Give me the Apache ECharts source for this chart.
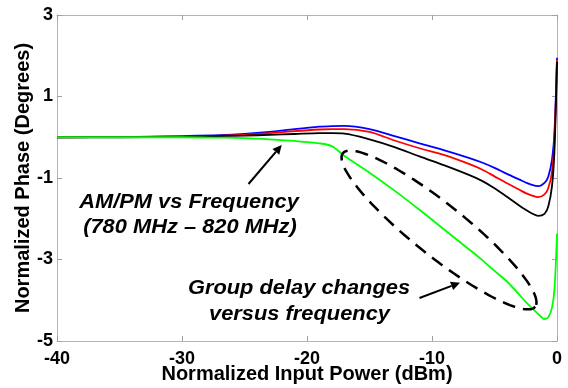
<!DOCTYPE html>
<html><head><meta charset="utf-8">
<script src="https://cdn.jsdelivr.net/npm/echarts@6/dist/echarts.min.js"></script>
<style>html,body{margin:0;padding:0;background:#fff}#c{width:568px;height:388px}</style>
</head><body><div id="c"></div>
<script>
// Normalized input power (dBm)
const inputPower = [-40,-35,-30,-27,-25,-23,-21,-19,-18,-17,-15,-13,-11,-9,-7,-6,-5,-4,-3,-2.5,-2,-1.5,-1,-0.7,-0.4,-0.2,0];
// Normalized phase (degrees) for each curve
const phaseBlue  = [0,0.005,0.03,0.05,0.08,0.13,0.2,0.26,0.275,0.28,0.2,0.03,-0.15,-0.32,-0.51,-0.62,-0.75,-0.9,-1.04,-1.11,-1.17,-1.2,-1.12,-0.97,-0.55,0.15,1.95];
const phaseRed   = [0,0.003,0.02,0.04,0.06,0.1,0.15,0.19,0.2,0.2,0.13,-0.08,-0.27,-0.44,-0.66,-0.79,-0.96,-1.13,-1.29,-1.37,-1.43,-1.47,-1.4,-1.25,-0.85,-0.05,1.9];
const phaseBlack = [0,0,0.01,0.03,0.04,0.06,0.08,0.1,0.1,0.09,-0.05,-0.24,-0.47,-0.69,-0.93,-1.07,-1.25,-1.46,-1.68,-1.78,-1.87,-1.93,-1.88,-1.7,-1.2,-0.3,1.85];
const phaseGreen = [0,0,0,-0.01,-0.02,-0.05,-0.09,-0.15,-0.22,-0.46,-0.87,-1.31,-1.78,-2.27,-2.76,-3.01,-3.28,-3.54,-3.87,-4.04,-4.19,-4.34,-4.46,-4.42,-4.18,-3.72,-2.36];
// Axis ticks
const xTicks = [-40,-30,-20,-10,0];
const yTicks = [-5,-3,-1,1,3];

const FONT = '"Liberation Sans", Arial, sans-serif';
const chart = echarts.init(document.getElementById('c'));

function pairs(ys){ return inputPower.map((x,i)=>[x, ys[i]]); }
function lineSeries(name, ys, color){
  return {name, type:'line', data:pairs(ys), showSymbol:false, smooth:0.3,
    lineStyle:{color, width:1.8}, itemStyle:{color}, animation:false, z:2};
}
const axisCommon = {
  axisLine:{show:true, onZero:false, lineStyle:{color:'#b4b4b4', width:1}},
  axisTick:{show:true, inside:true, length:5, lineStyle:{color:'#a0a0a0'}},
  splitLine:{show:false}
};
const xMin = xTicks[0], xMax = xTicks[xTicks.length-1], xInt = xTicks[1]-xTicks[0];
const yMin = yTicks[0], yMax = yTicks[yTicks.length-1], yInt = yTicks[1]-yTicks[0];

chart.setOption({
  animation:false,
  backgroundColor:'#fff',
  grid:{left:57, right:11, top:15, bottom:47, containLabel:false, outerBoundsMode:'none'},
  xAxis:[
    Object.assign({type:'value', min:xMin, max:xMax, interval:xInt, position:'bottom',
      axisLabel:{fontSize:18, fontWeight:'bold', color:'#000', margin:9, fontFamily:FONT},
      name:'Normalized Input Power (dBm)', nameLocation:'middle', nameGap:23, nameMoveOverlap:false,
      nameTextStyle:{fontSize:20, fontWeight:'bold', color:'#000', fontFamily:FONT}}, axisCommon),
    Object.assign({type:'value', min:xMin, max:xMax, interval:xInt, position:'top',
      axisLabel:{show:false}}, axisCommon)
  ],
  yAxis:[
    Object.assign({type:'value', min:yMin, max:yMax, interval:yInt, position:'left',
      axisLabel:{fontSize:18, fontWeight:'bold', color:'#000', margin:4, fontFamily:FONT},
      name:'Normalized Phase (Degrees)', nameLocation:'middle', nameGap:24, nameRotate:90, nameMoveOverlap:false,
      nameTextStyle:{fontSize:20, fontWeight:'bold', color:'#000', fontFamily:FONT}}, axisCommon),
    Object.assign({type:'value', min:yMin, max:yMax, interval:yInt, position:'right',
      axisLabel:{show:false}}, axisCommon)
  ],
  series:[
    lineSeries('blue', phaseBlue, '#0000ff'),
    lineSeries('red', phaseRed, '#ff0000'),
    lineSeries('black', phaseBlack, '#000000'),
    lineSeries('green', phaseGreen, '#00ff00')
  ]
});

// ---- annotations (pixel placement) ----
function arrow(x1,y1,x2,y2){
  const dx=x2-x1, dy=y2-y1, L=Math.hypot(dx,dy), ux=dx/L, uy=dy/L;
  const hl=9, hw=4.5;
  const bx=x2-ux*hl, by=y2-uy*hl;
  return [
    {type:'line', shape:{x1, y1, x2:bx, y2:by}, style:{stroke:'#000', lineWidth:2}, z:10},
    {type:'polygon', shape:{points:[[x2,y2],[bx-uy*hw, by+ux*hw],[bx+uy*hw, by-ux*hw]]}, style:{fill:'#000'}, z:10}
  ];
}
function label(text, x, y){
  return {type:'text', x, y, scaleX:1.12, z:10,
    style:{text, font:'italic bold 19.5px ' + FONT, fill:'#000', textAlign:'center', textVerticalAlign:'middle'}};
}
function ellipsePts(cx, cy, a, b, deg){
  const th=deg*Math.PI/180, pts=[];
  for(let i=0;i<160;i++){
    const t=i/160*2*Math.PI;
    pts.push([cx + a*Math.cos(t)*Math.cos(th) - b*Math.sin(t)*Math.sin(th),
              cy + a*Math.cos(t)*Math.sin(th) + b*Math.sin(t)*Math.cos(th)]);
  }
  return pts;
}
const graphics = [
  label('AM/PM vs Frequency', 189, 203),
  label('(780 MHz \u2013 820 MHz)', 190, 228),
  label('Group delay changes', 299, 289),
  label('versus frequency', 299.5, 315),
  {type:'polygon', shape:{points:ellipsePts(439, 230, 123, 26, 38.6)},
   style:{fill:null, stroke:'#000', lineWidth:2.5, lineDash:[13,8]}, z:9}
].concat(arrow(248.5,184,281.7,145)).concat(arrow(419.5,298,460,282.7));
chart.setOption({graphic:{elements:graphics}});
</script>
</body></html>
